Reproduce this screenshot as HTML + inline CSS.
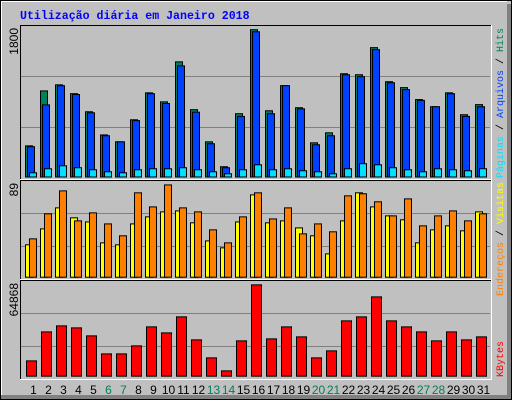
<!DOCTYPE html>
<html><head><meta charset="utf-8"><style>
html,body{margin:0;padding:0;background:#c0c0c0}
svg{display:block}
text{font-family:"Liberation Sans",sans-serif}
</style></head><body>
<svg id="c" width="512" height="400" xmlns="http://www.w3.org/2000/svg">
<rect x="0" y="0" width="512" height="400" fill="#c0c0c0"/>
<rect x="0.5" y="0.5" width="511" height="399" fill="none" stroke="#000"/>
<rect x="1" y="395" width="510" height="4" fill="#808080"/>
<rect x="507" y="4" width="4" height="395" fill="#808080"/>
<line x1="1" y1="1.5" x2="507" y2="1.5" stroke="#fff"/>
<line x1="1.5" y1="1" x2="1.5" y2="395" stroke="#fff"/>
<text x="20" y="19" font-family="Liberation Mono, monospace" font-weight="bold" font-size="11.6" fill="#0000ff" style="font-family:'Liberation Mono',monospace">Utilização diária em Janeiro 2018</text>
<g id="g"></g>
</svg>
<script>
const days=[1,2,3,4,5,6,7,8,9,10,11,12,13,14,15,16,17,18,19,20,21,22,23,24,25,26,27,28,29,30,31];
const weekend=[6,7,13,14,20,21,27,28];
const hits=[370,1023,1095,990,775,500,418,680,1000,893,1368,800,418,122,752,1750,787,1085,823,406,525,1227,1215,1537,1132,1062,920,835,1000,740,860];
const files=[360,857,1085,980,763,490,418,670,990,873,1320,770,395,110,720,1725,752,1085,810,383,490,1215,1192,1513,1120,1038,910,835,990,720,835];
const pages=[50,98,133,110,86,62,50,86,98,98,110,86,62,38,86,145,86,98,74,62,38,98,158,145,110,86,62,98,86,74,98];
const visits=[29.9,44.6,64,54.8,51,31.7,29.9,49.2,55.7,60.3,61.2,50.2,33.5,27.1,51,76,50.2,52,45.5,38.2,21.5,52,77.9,64.9,56.6,53,31.7,43.7,47.4,42.8,60.3];
const sites=[35.4,58.5,79.7,52,59.4,49.2,38.2,77.9,64.9,85.2,64,60.3,43.7,31.7,55.7,77.9,53.8,64,40,49.2,41.9,75.1,77,69.6,56.6,72.3,47.4,56.6,61.2,52,58.5];
const kbytes=[10470,30260,34370,33000,27540,15250,15250,20710,33690,29580,40520,24810,12520,3640,24130,62370,25490,33690,26860,12520,17300,37790,40520,54170,37790,33690,30260,24130,30260,24810,26860];
const maxTop=1800, maxMid=89, maxBot=64868;
const yTicks=["1800","89","64868"];

const NS="http://www.w3.org/2000/svg";
const g=document.getElementById('g');
function mk(tag,attrs,parent){const e=document.createElementNS(NS,tag);for(const k in attrs)e.setAttribute(k,attrs[k]);(parent||g).appendChild(e);return e;}
const dayX=i=>25+15*i;

const panels=[{top:25,bot:179,base:176.5,h:151.5,grid:[76.5,127.5]},{top:180,bot:279,base:276.7,h:96.4,grid:[213.5,246.5]},{top:280,bot:379,base:375.7,h:95,grid:[313.5,346.5]}];
const pnames=['hits-panel','visits-panel','kbytes-panel'];
panels.forEach((p,k)=>{
  const r=mk('rect',{x:20,y:p.top,width:471,height:p.bot-p.top,fill:'#c0c0c0'});
  
  
  p.grid.forEach(gy=>{const l=mk('line',{x1:21,x2:490,y1:gy,y2:gy,stroke:'#808080'});
    
    });
});
function bar(x,w,base,hpx,fill,name){
  const r=mk('rect',{x:x+0.5,y:base-hpx+0.5,width:w-1,height:Math.max(hpx,1),fill:fill,stroke:'#000','stroke-width':1});
  
  
}
const P=panels;
days.forEach((d,i)=>{
  const x=dayX(i);
  bar(x,8,P[0].base,hits[i]/maxTop*P[0].h,'#00805c','bar-hits-'+d);
  bar(x+2,8,P[0].base,files[i]/maxTop*P[0].h,'#0040ff','bar-files-'+d);
  bar(x+4,8,P[0].base,pages[i]/maxTop*P[0].h,'#00e0ff','bar-pages-'+d);
  bar(x,8,P[1].base,visits[i]/maxMid*P[1].h,'#ffff00','bar-visits-'+d);
  bar(x+4,8,P[1].base,sites[i]/maxMid*P[1].h,'#ff8000','bar-sites-'+d);
  bar(x+1,11,P[2].base,kbytes[i]/maxBot*P[2].h,'#ff0000','bar-kbytes-'+d);
  const t=mk('text',{x:x+8.5,y:394,'text-anchor':'middle','font-size':12,fill:weekend.includes(d)?'#00805c':'#000'});
  t.textContent=d;
  
  
});
panels.forEach(p=>{
  mk('line',{x1:20,x2:491,y1:p.top+0.5,y2:p.top+0.5,stroke:'#000'});
  mk('line',{x1:20.5,x2:20.5,y1:p.top,y2:p.bot,stroke:'#000'});
  mk('line',{x1:20,x2:492,y1:p.bot+0.5,y2:p.bot+0.5,stroke:'#fff'});
  mk('line',{x1:491.5,x2:491.5,y1:p.top,y2:p.bot+1,stroke:'#fff'});
});
panels.forEach((p,k)=>{
  const t=mk('text',{x:0,y:0,'text-anchor':'end','font-size':12,fill:'#000',transform:`translate(18,${p.top+3}) rotate(-90)`});
  t.textContent=yTicks[k];
  
  
});
function legend(y,anchor,parts,name){
  const t=mk('text',{x:0,y:0,'text-anchor':anchor,'font-size':10,transform:`translate(503,${y}) rotate(-90)`,style:"font-family:'Liberation Mono',monospace"});
  parts.forEach(([s,c])=>{const ts=mk('tspan',{fill:c},t);ts.textContent=s;});
  
  
}
legend(28,'end',[['Páginas','#00e0ff'],[' / ','#000'],['Arquivos','#0040ff'],[' / ','#000'],['Hits','#00805c']],'legend-hits-panel');
legend(182,'end',[['Endereços','#ff8000'],[' / ','#000'],['Visitas','#ffff00']],'legend-visits-panel');
legend(377,'start',[['KBytes','#ff0000']],'legend-kbytes-panel');
</script>
</body></html>
